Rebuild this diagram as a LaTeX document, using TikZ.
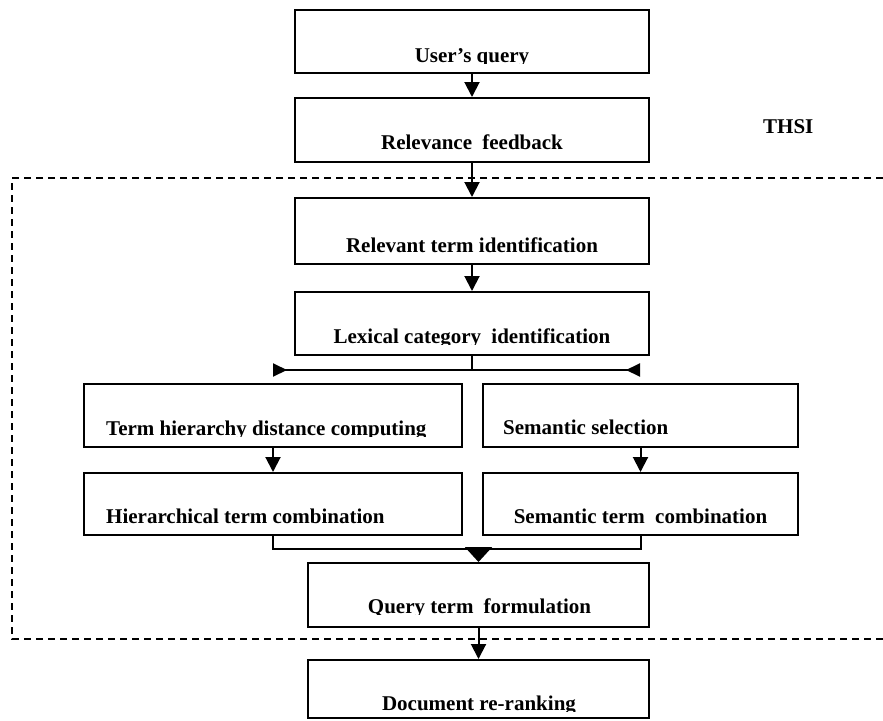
\documentclass[tikz,border=0pt]{standalone}
\usepackage{fontspec}
\setmainfont{Liberation Serif}
\usetikzlibrary{arrows.meta}
\tikzset{
  box/.style={draw, line width=2pt, rectangle, inner sep=0pt},
  lbl/.style={font=\fontsize{21}{24}\selectfont\bfseries, inner sep=0pt},
  conn/.style={line width=2pt, -{Triangle[length=15pt,width=15pt]}},
  wire/.style={line width=2pt},
  frame/.style={line width=1.6pt, dash pattern=on 7pt off 5pt},
}
% text inside a box, cut just below its baseline as in the reference
\newcommand\btext[5]{%
  \begin{scope}
    \clip (0,0) rectangle (883,#4+1.5);
    \node[lbl, anchor=#2] (#1-t) at (#3,#4) {#5};
  \end{scope}}
\begin{document}
\begin{tikzpicture}[x=1pt,y=-1pt]
\useasboundingbox (0,0) rectangle (883,720);
% dashed frame
\draw[frame] (883,178) -- (12,178) -- (12,639) -- (883,639);
% boxes
\node[box, minimum width=354pt, minimum height=63pt] (uq) at (472,41.5) {};
\node[box, minimum width=354pt, minimum height=64pt] (rf) at (472,130) {};
\node[box, minimum width=354pt, minimum height=66pt] (rt) at (472,231) {};
\node[box, minimum width=354pt, minimum height=63pt] (lx) at (472,323.5) {};
\node[box, minimum width=378pt, minimum height=63pt] (th) at (273,415.5) {};
\node[box, minimum width=315pt, minimum height=63pt] (ss) at (640.5,415.5) {};
\node[box, minimum width=378pt, minimum height=62pt] (hc) at (273,504) {};
\node[box, minimum width=315pt, minimum height=62pt] (sc) at (640.5,504) {};
\node[box, minimum width=341pt, minimum height=64pt] (qf) at (478.5,595) {};
\node[box, minimum width=341pt, minimum height=58pt] (dr) at (478.5,689) {};
% texts
\btext{uq}{base}{472}{62}{User’s query}
\btext{rf}{base}{472}{149}{Relevance\hspace{5pt} feedback}
\btext{rt}{base}{472}{252}{Relevant term identification}
\btext{lx}{base}{472}{343}{Lexical category\hspace{5pt} identification}
\btext{th}{base west}{106}{435}{Term hierarchy distance computing}
\btext{ss}{base west}{503}{434}{Semantic selection}
\btext{hc}{base west}{106}{523}{Hierarchical term combination}
\btext{sc}{base}{640.5}{523}{Semantic term\hspace{5pt} combination}
\btext{qf}{base}{479.5}{613}{Query term\hspace{5pt} formulation}
\btext{dr}{base}{479}{710}{Document re-ranking}
\node[lbl, anchor=base west] (thsi) at (763,133) {THSI};
% connectors
\draw[conn] (uq.south) -- (rf.north);
\draw[conn] (rf.south) -- (rt.north);
\draw[conn] (rt.south) -- (lx.north);
\coordinate (sl) at (273,370);
\coordinate (sr) at (640,370);
\draw[wire, -{Triangle[reversed,length=14pt,width=13pt]}] (lx.south) |- (sl);
\draw[wire, -{Triangle[reversed,length=14pt,width=13pt]}] (lx.south) |- (sr);
\draw[conn] (th.south) -- (hc.north);
\draw[conn] (ss.south) -- (sc.north);
\coordinate (mj) at (478.5,549);
\draw[wire] (hc.south) |- (mj);
\draw[wire] (sc.south) |- (mj);
\draw[wire, -{Triangle[length=15pt,width=27pt]}] (mj) -- (qf.north);
\draw[conn] (qf.south) -- (dr.north);
\end{tikzpicture}
\end{document}
